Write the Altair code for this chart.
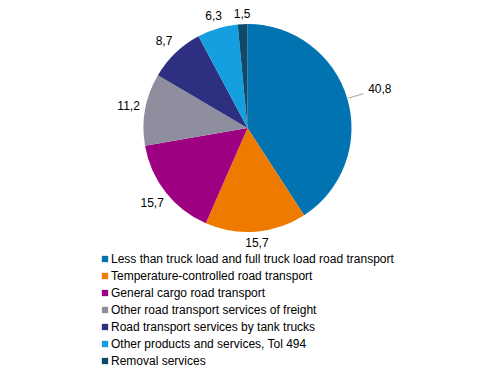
import altair as alt
import pandas as pd

categories = [
    "Less than truck load and full truck load road transport",
    "Temperature-controlled road transport",
    "General cargo road transport",
    "Other road transport services of freight",
    "Road transport services by tank trucks",
    "Other products and services, Tol 494",
    "Removal services",
]
values = [40.8, 15.7, 15.7, 11.2, 8.7, 6.3, 1.5]
labels = ["40,8", "15,7", "15,7", "11,2", "8,7", "6,3", "1,5"]
colors = ["#0073B0", "#EE7A00", "#9E0082", "#8E8E9E", "#2D2F80", "#14A0E0", "#0E4A6A"]

df = pd.DataFrame({
    "category": categories,
    "value": values,
    "label": labels,
    "idx": list(range(len(categories))),
})

CX, CY = 239.5, 120
R = 104
FONT = "Liberation Sans"

base = alt.Chart(df).transform_joinaggregate(
    total="sum(value)"
).transform_window(
    cum="sum(value)", sort=[alt.SortField("idx")]
).transform_calculate(
    a="(datum.cum - datum.value / 2) / datum.total * 2 * PI",
).transform_calculate(
    r="datum.idx == 0 ? 138 : 108 + 12 * abs(sin(datum.a)) + 6 * abs(cos(datum.a))",
)

pie = alt.Chart(df).mark_arc(outerRadius=R, x=CX, y=CY).encode(
    theta=alt.Theta("value:Q", stack=True),
    order=alt.Order("idx:Q"),
    color=alt.Color(
        "category:N",
        scale=alt.Scale(domain=categories, range=colors),
        sort=categories,
        legend=alt.Legend(
            title=None,
            orient="none",
            legendX=91,
            legendY=245,
            symbolType="square",
            symbolSize=40,
            symbolStrokeWidth=0,
            labelFont=FONT,
            labelFontSize=12,
            labelColor="#000000",
            labelLimit=400,
            labelOffset=0,
            rowPadding=5,
        ),
    ),
)

text = base.transform_calculate(
    tx=f"{CX} + datum.r * sin(datum.a)",
    ty=f"{CY} - datum.r * cos(datum.a)",
).mark_text(font=FONT, fontSize=12, color="#000000", baseline="middle").encode(
    x=alt.X("tx:Q", scale=None, axis=None),
    y=alt.Y("ty:Q", scale=None, axis=None),
    text="label:N",
)

leader = base.transform_filter("datum.idx == 0").transform_calculate(
    x1=f"{CX} + {R + 1} * sin(datum.a)",
    y1=f"{CY} - {R + 1} * cos(datum.a)",
    x2=f"{CX} + 121 * sin(datum.a)",
    y2=f"{CY} - 121 * cos(datum.a)",
).mark_rule(color="#A6A6A6", strokeWidth=1).encode(
    x=alt.X("x1:Q", scale=None, axis=None),
    y=alt.Y("y1:Q", scale=None, axis=None),
    x2="x2:Q",
    y2="y2:Q",
)

chart = alt.layer(pie, leader, text).properties(
    width=475,
    height=362,
    autosize=alt.AutoSizeParams(type="none"),
    padding=0,
).configure_view(stroke=None)

chart.save("out.html", embed_options={"renderer": "svg", "actions": False})
